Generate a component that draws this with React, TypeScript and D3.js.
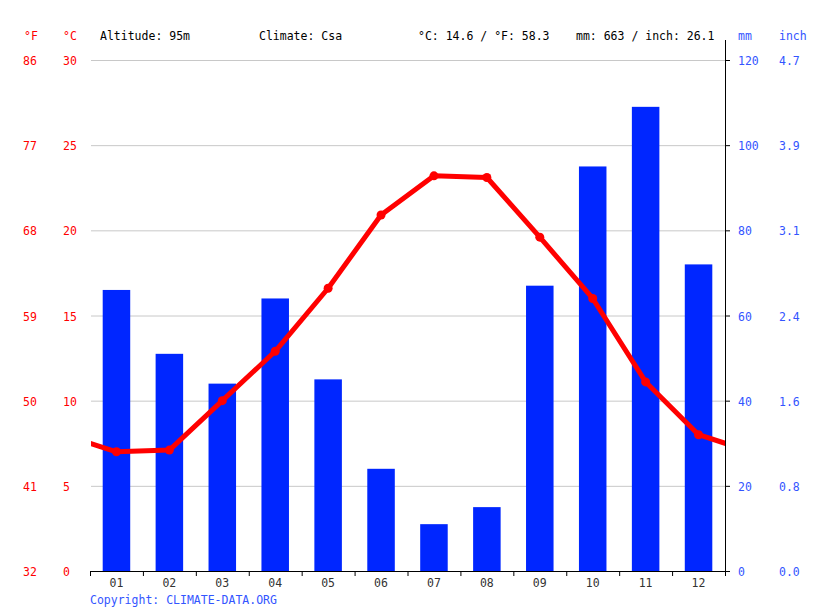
import React from "react";
import * as d3 from "d3";

const months = ["01","02","03","04","05","06","07","08","09","10","11","12"];
const tempC = [7.0, 7.1, 10.0, 12.9, 16.6, 20.9, 23.2, 23.1, 19.6, 16.0, 11.1, 8.0];
const precipMm = [66, 51, 44, 64, 45, 24, 11, 15, 67, 95, 109, 72];
const tempTicks = [0, 5, 10, 15, 20, 25, 30];
const precipTicks = [0, 20, 40, 60, 80, 100, 120];
const headerTexts = ["Altitude: 95m", "Climate: Csa", "°C: 14.6 / °F: 58.3", "mm: 663 / inch: 26.1"];

const W = 815, H = 611;
const L = 90, R = 725, T = 60, B = 571;
const FONT = "'DejaVu Sans Mono', monospace";
const RED = "#ff0000";
const BLUE = "#0026ff";
const LBLUE = "#3355ff";

export default function App() {
  const x = d3.scaleBand<string>().domain(months).range([L, R]).paddingInner(0).paddingOuter(0);
  const yT = d3.scaleLinear().domain([0, 30]).range([B, T]);
  const yP = d3.scaleLinear().domain([0, 120]).range([B, T]);
  const bw = x.bandwidth();
  const barW = bw * 0.52;
  const cx = (i: number) => L + bw * (i + 0.5);

  const linePts: [number, number][] = [
    [cx(-1), yT(tempC[11])],
    ...tempC.map((v, i) => [cx(i), yT(v)] as [number, number]),
    [cx(12), yT(tempC[0])],
  ];
  const line = d3.line<[number, number]>().x(d => d[0]).y(d => d[1]);

  return (
    <svg width={W} height={H} style={{ position: "absolute", left: 0, top: 0 }} fontFamily={FONT} fontSize={11.5}>
      <defs>
        <clipPath id="pc"><rect x={L + 1} y={0} width={R - L - 1} height={H} /></clipPath>
      </defs>
      <rect width={W} height={H} fill="#fff" />
      {/* header */}
      <text x={24} y={40} fill={RED}>°F</text>
      <text x={63} y={40} fill={RED}>°C</text>
      <text x={100} y={40} fill="#000">{headerTexts[0]}</text>
      <text x={259} y={40} fill="#000">{headerTexts[1]}</text>
      <text x={418} y={40} fill="#000">{headerTexts[2]}</text>
      <text x={576} y={40} fill="#000">{headerTexts[3]}</text>
      <text x={738} y={40} fill={LBLUE}>mm</text>
      <text x={779} y={40} fill={LBLUE}>inch</text>

      {/* grid */}
      {tempTicks.filter(t => t > 0).map(t => (
        <line key={t} x1={L + 1} x2={R} y1={yT(t) + 0.5} y2={yT(t) + 0.5} stroke="#c8c8c8" strokeWidth={1} />
      ))}
      {/* left labels */}
      {tempTicks.map(t => (
        <g key={t}>
          <text x={23} y={yT(t) + 5} fill={RED}>{Math.round(32 + t * 9 / 5)}</text>
          <text x={63} y={yT(t) + 5} fill={RED}>{t}</text>
        </g>
      ))}
      {/* bars */}
      {precipMm.map((v, i) => (
        <rect key={i} x={cx(i) - barW / 2} y={yP(v)} width={barW} height={B - yP(v)} fill={BLUE} />
      ))}
      {/* temp line */}
      <g clipPath="url(#pc)">
        <path d={line(linePts) || ""} fill="none" stroke={RED} strokeWidth={5} strokeLinejoin="round" />
      </g>
      {tempC.map((v, i) => (
        <circle key={i} cx={cx(i)} cy={yT(v)} r={4.5} fill={RED} />
      ))}
      {/* x axis */}
      <line x1={L} x2={R + 4} y1={B + 0.5} y2={B + 0.5} stroke="#000" strokeWidth={1} />
      {d3.range(13).map(i => (
        <line key={i} x1={L + bw * i + 0.5} x2={L + bw * i + 0.5} y1={B} y2={B + 5} stroke="#000" />
      ))}
      {months.map((m, i) => (
        <text key={m} x={cx(i)} y={B + 16} textAnchor="middle" fill="#333">{m}</text>
      ))}
      {/* right axis */}
      <line x1={R + 0.5} x2={R + 0.5} y1={40} y2={B + 4} stroke="#000" />
      {precipTicks.map(t => (
        <g key={t}>
          <line x1={R} x2={R + 5} y1={yP(t) + 0.5} y2={yP(t) + 0.5} stroke="#000" />
          <text x={738} y={yP(t) + 5} fill={LBLUE}>{t}</text>
          <text x={779} y={yP(t) + 5} fill={LBLUE}>{(t / 25.4).toFixed(1)}</text>
        </g>
      ))}
      <text x={90} y={604} fill={LBLUE}>Copyright: CLIMATE-DATA.ORG</text>
    </svg>
  );
}
